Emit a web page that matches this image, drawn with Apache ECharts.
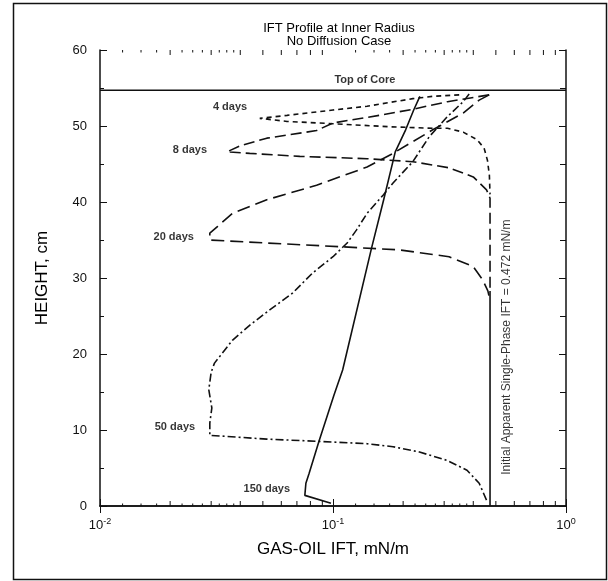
<!DOCTYPE html>
<html>
<head>
<meta charset="utf-8">
<script src="https://cdn.jsdelivr.net/npm/echarts@6/dist/echarts.min.js"></script>
<style>
    html, body { margin: 0; padding: 0; background: #fff; }
    #fig_ift_profile { width: 608px; height: 581px; }
</style>
</head>
<body>
<div id="fig_ift_profile"></div>
<script>
// values: [IFT (mN/m), height (cm)]
var day4 = [
    [0.348, 54.1], [0.268, 53.9], [0.22, 53.6], [0.14, 52.6], [0.1, 52.1],
    [0.0635, 51.4], [0.0485, 51.0], [0.0635, 50.6], [0.1, 50.3], [0.175, 49.9],
    [0.268, 49.7], [0.31, 49.7], [0.362, 49.2], [0.415, 48.2], [0.445, 47.1],
    [0.46, 45.5], [0.469, 43.5], [0.472, 41.0]
];
var day8 = [
    [0.468, 54.1], [0.31, 53.2], [0.22, 52.2], [0.158, 51.4], [0.1, 50.4],
    [0.085, 49.4], [0.052, 48.4], [0.04, 47.4], [0.0351, 46.6], [0.0439, 46.4],
    [0.072, 46.0], [0.14, 45.7], [0.22, 45.3], [0.315, 44.5], [0.40, 43.3],
    [0.456, 41.6], [0.472, 40.5], [0.472, 28.3]
];
var day20 = [
    [0.468, 54.1], [0.424, 53.4], [0.362, 51.7], [0.268, 49.5], [0.181, 46.4],
    [0.14, 44.6], [0.085, 42.2], [0.052, 40.3], [0.037, 38.5], [0.032, 36.8],
    [0.0296, 35.9], [0.0296, 35.0], [0.052, 34.6], [0.11, 34.1], [0.193, 33.7],
    [0.315, 32.8], [0.40, 31.5], [0.44, 29.7], [0.462, 28.3], [0.472, 27.0]
];
var day50 = [
    [0.384, 54.2], [0.362, 53.2], [0.309, 51.2], [0.259, 48.6], [0.22, 45.3],
    [0.181, 42.5], [0.164, 40.9], [0.14, 38.5], [0.126, 36.3], [0.115, 34.6],
    [0.1, 32.8], [0.082, 30.7], [0.067, 28.0], [0.0535, 25.8], [0.044, 23.8],
    [0.037, 21.8], [0.031, 18.8], [0.030, 17.6], [0.0293, 15.3], [0.0302, 12.9],
    [0.0296, 10.9], [0.0296, 9.3], [0.052, 8.8], [0.0876, 8.5], [0.14, 8.2],
    [0.181, 7.8], [0.235, 7.1], [0.309, 6.0], [0.376, 4.7], [0.424, 3.0],
    [0.46, 0.5]
];
var day150 = [
    [0.236, 53.9], [0.222, 52.1], [0.205, 49.5], [0.185, 46.6], [0.165, 40.3],
    [0.146, 33.8], [0.11, 17.9], [0.101, 14.6], [0.087, 8.5], [0.079, 4.3],
    [0.0765, 3.0], [0.0757, 1.4], [0.098, 0.35]
];
var initialIft = [[0.472, 0], [0.472, 28.3]];
var topOfCore = [[0.01, 54.7], [1, 54.7]];

// axis ticks
var xMin = 0.01, xMax = 1;
var yMin = 0, yMax = 60;
var intTicks = [0.02, 0.03, 0.04, 0.05, 0.06, 0.07, 0.08, 0.09,
                0.2, 0.3, 0.4, 0.5, 0.6, 0.7, 0.8, 0.9];
var quarterTicks = [0.0125, 0.015, 0.0175, 0.0225, 0.025, 0.0275, 0.0325, 0.035, 0.0375,
                    0.125, 0.15, 0.175, 0.225, 0.25, 0.275, 0.325, 0.35, 0.375];

// text annotations
var dayLabels = ['4 days', '8 days', '20 days', '50 days', '150 days'];
var dayLabelAt = [[0.0428, 52.5], [0.0288, 46.8], [0.0253, 35.4], [0.0256, 10.4], [0.0654, 2.2]];
var coreLabelAt = [0.137, 56.05];
var initialLabelAt = [0.558, 20.9];

var FONT = '"Liberation Sans", Arial, sans-serif';
var INK = '#111';

function curve(name, data, dash) {
    return {
        name: name,
        type: 'line',
        data: data,
        showSymbol: false,
        symbol: 'none',
        lineStyle: { color: INK, width: 1.6, type: dash },
        z: 3
    };
}

// draws short tick marks on the bottom and top of the grid
function tickSeries(values, len) {
    return {
        type: 'custom',
        data: values.map(function(v) { return [v, yMin]; }),
        clip: false,
        silent: true,
        renderItem: function(params, api) {
            var v = api.value(0);
            var b = api.coord([v, yMin]);
            var t = api.coord([v, yMax]);
            var st = { stroke: INK, lineWidth: 1 };
            return {
                type: 'group',
                children: [
                    { type: 'line', shape: { x1: b[0], y1: b[1], x2: b[0], y2: b[1] - len }, style: st },
                    { type: 'line', shape: { x1: t[0], y1: t[1], x2: t[0], y2: t[1] + len }, style: st }
                ]
            };
        }
    };
}

function textSeries(points, texts, label) {
    return {
        type: 'scatter',
        symbolSize: 0,
        silent: true,
        data: points.map(function(p, i) { return { value: p, name: texts[i] }; }),
        label: Object.assign({
            show: true,
            formatter: '{b}',
            color: '#000',
            fontFamily: FONT
        }, label),
        z: 5
    };
}

var xLog = {
    type: 'log',
    logBase: 10,
    min: xMin,
    max: xMax,
    splitLine: { show: false },
    axisLine: { show: true, lineStyle: { color: INK, width: 1.5 } },
    axisTick: { show: true, inside: true, length: 7, lineStyle: { color: INK, width: 1 } }
};

var option = {
    animation: false,
    backgroundColor: '#fff',
    title: {
        text: 'IFT Profile at Inner Radius\nNo Diffusion Case',
        left: 334,
        top: 17,
        textAlign: 'center',
        textStyle: { fontFamily: FONT, fontSize: 13, fontWeight: 'normal', lineHeight: 13, color: '#000' }
    },
    grid: { left: 100, right: 42, top: 50, bottom: 75 },
    xAxis: [
        Object.assign({}, xLog, {
            position: 'bottom',
            name: 'GAS-OIL IFT, mN/m',
            nameLocation: 'middle',
            nameGap: 35,
            nameTextStyle: { fontFamily: FONT, fontSize: 17, color: '#000' },
            axisLabel: {
                margin: 11,
                formatter: function(v) {
                    return '{b|10}{s|' + Math.round(Math.log10(v)) + '}';
                },
                rich: {
                    b: { fontFamily: FONT, fontSize: 13, color: '#111', lineHeight: 16 },
                    s: { fontFamily: FONT, fontSize: 9, color: '#111', verticalAlign: 'top', lineHeight: 10 }
                }
            }
        }),
        Object.assign({}, xLog, {
            position: 'top',
            axisLabel: { show: false }
        })
    ],
    yAxis: [
        {
            type: 'value',
            min: yMin,
            max: yMax,
            interval: 10,
            position: 'left',
            name: 'HEIGHT, cm',
            nameLocation: 'middle',
            nameGap: 49,
            nameTextStyle: { fontFamily: FONT, fontSize: 17, color: '#000' },
            splitLine: { show: false },
            axisLine: { show: true, lineStyle: { color: INK, width: 1.5 } },
            axisTick: { inside: true, length: 7, lineStyle: { color: INK } },
            minorTick: { show: true, splitNumber: 2, length: 4, lineStyle: { color: INK } },
            axisLabel: { margin: 13, fontFamily: FONT, fontSize: 13, color: '#111' }
        },
        {
            type: 'value',
            min: yMin,
            max: yMax,
            interval: 10,
            position: 'right',
            splitLine: { show: false },
            axisLine: { show: true, lineStyle: { color: INK, width: 1.5 } },
            axisTick: { inside: true, length: 7, lineStyle: { color: INK } },
            minorTick: { show: true, splitNumber: 2, length: 6, lineStyle: { color: INK } },
            axisLabel: { show: false }
        }
    ],
    graphic: [
        {
            type: 'rect',
            shape: { x: 13.5, y: 3.5, width: 593, height: 576 },
            style: { fill: 'none', stroke: INK, lineWidth: 1.5 },
            silent: true
        }
    ],
    series: [
        {
            type: 'line',
            data: topOfCore,
            symbol: 'none',
            lineStyle: { color: INK, width: 1.6 },
            z: 2
        },
        curve('Initial', initialIft, 'solid'),
        curve('4 days', day4, [5, 4]),
        curve('8 days', day8, [11, 5]),
        curve('20 days', day20, [13, 6]),
        curve('50 days', day50, [8, 3, 2, 3]),
        curve('150 days', day150, 'solid'),
        tickSeries(intTicks, 5),
        tickSeries(quarterTicks, 2.5),
        textSeries(dayLabelAt, dayLabels, { position: 'left', distance: 0, fontSize: 11, fontWeight: 'bold' }),
        textSeries([coreLabelAt], ['Top of Core'], { position: 'inside', fontSize: 11, fontWeight: 'bold' }),
        textSeries([initialLabelAt], ['Initial Apparent Single-Phase IFT = 0.472 mN/m'],
            { position: 'inside', rotate: 90, fontSize: 12 })
    ]
};

var chart = echarts.init(document.getElementById('fig_ift_profile'));
chart.setOption(option);
</script>
</body>
</html>
